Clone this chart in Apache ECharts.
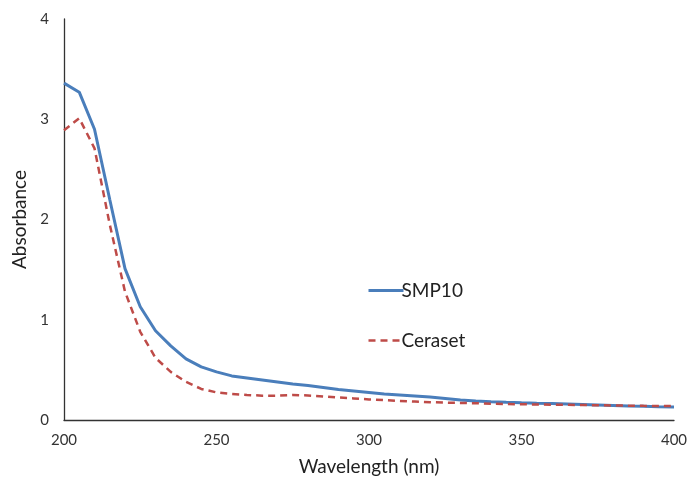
<!DOCTYPE html>
<html>
<head>
<meta charset="utf-8">
<script src="https://cdn.jsdelivr.net/npm/echarts@6/dist/echarts.min.js"></script>
<style>html,body{margin:0;padding:0;background:#fff}#c{width:687px;height:480px}</style>
</head>
<body>
<div id="c"></div>
<script>
const wavelengths = [200,205,210,215,220,225,230,235,240,245,250,255,260,265,270,275,280,285,290,295,300,305,310,315,320,325,330,335,340,345,350,355,360,365,370,375,380,385,390,395,400];
const smp10 = [3.36,3.27,2.90,2.20,1.51,1.13,0.89,0.74,0.61,0.53,0.48,0.44,0.42,0.40,0.38,0.36,0.345,0.325,0.305,0.29,0.275,0.26,0.25,0.24,0.23,0.215,0.20,0.19,0.183,0.177,0.172,0.168,0.165,0.16,0.155,0.15,0.145,0.14,0.136,0.132,0.13];
const ceraset = [2.89,3.01,2.71,1.95,1.28,0.88,0.62,0.48,0.38,0.31,0.275,0.26,0.25,0.243,0.243,0.25,0.245,0.235,0.225,0.215,0.205,0.198,0.19,0.184,0.178,0.173,0.17,0.167,0.163,0.16,0.157,0.155,0.153,0.151,0.149,0.147,0.145,0.143,0.141,0.14,0.14];
const xTicks = {min:200, max:400, interval:50};
const yTicks = {min:0, max:4, interval:1};

const font = 'Lato, "Open Sans", sans-serif';
const chart = echarts.init(document.getElementById('c'), null, {renderer:'canvas'});
chart.setOption({
  animation:false,
  backgroundColor:'#fff',
  textStyle:{fontFamily:font},
  grid:{left:64, right:13, top:19, bottom:60, containLabel:false, outerBoundsMode:'none'},
  legend:{
    orient:'vertical', left:362, top:276, itemWidth:35, itemHeight:14, itemGap:31,
    itemStyle:{opacity:0},
    lineStyle:{width:'inherit', type:'inherit'},
    textStyle:{fontFamily:font, fontSize:19, color:'#222', padding:[0,0,0,-7]},
    data:['SMP10','Ceraset']
  },
  xAxis:{
    type:'value', min:xTicks.min, max:xTicks.max, interval:xTicks.interval,
    name:'Wavelength (nm)', nameLocation:'middle', nameGap:37,
    nameTextStyle:{fontFamily:font, fontSize:19, color:'#222'},
    axisLine:{lineStyle:{color:'#333', width:1.3}}, axisTick:{show:false},
    axisLabel:{fontFamily:font, fontSize:15, color:'#333', margin:13},
    splitLine:{show:false}
  },
  yAxis:{
    type:'value', min:yTicks.min, max:yTicks.max, interval:yTicks.interval,
    name:'Absorbance', nameLocation:'middle', nameGap:31,
    nameTextStyle:{fontFamily:font, fontSize:19, color:'#222'},
    axisLine:{show:true, lineStyle:{color:'#333', width:1.3}}, axisTick:{show:false},
    axisLabel:{fontFamily:font, fontSize:15, color:'#333', margin:15},
    splitLine:{show:false}
  },
  series:[
    {name:'SMP10', type:'line', showSymbol:false, symbol:'none',
     data:wavelengths.map((w,i)=>[w,smp10[i]]),
     lineStyle:{color:'#4a7ebb', width:3}, itemStyle:{color:'#4a7ebb'}},
    {name:'Ceraset', type:'line', showSymbol:false, symbol:'none',
     data:wavelengths.map((w,i)=>[w,ceraset[i]]),
     lineStyle:{color:'#be4b48', width:2.5, type:[7,5]}, itemStyle:{color:'#be4b48'}}
  ]
});
</script>
</body>
</html>
